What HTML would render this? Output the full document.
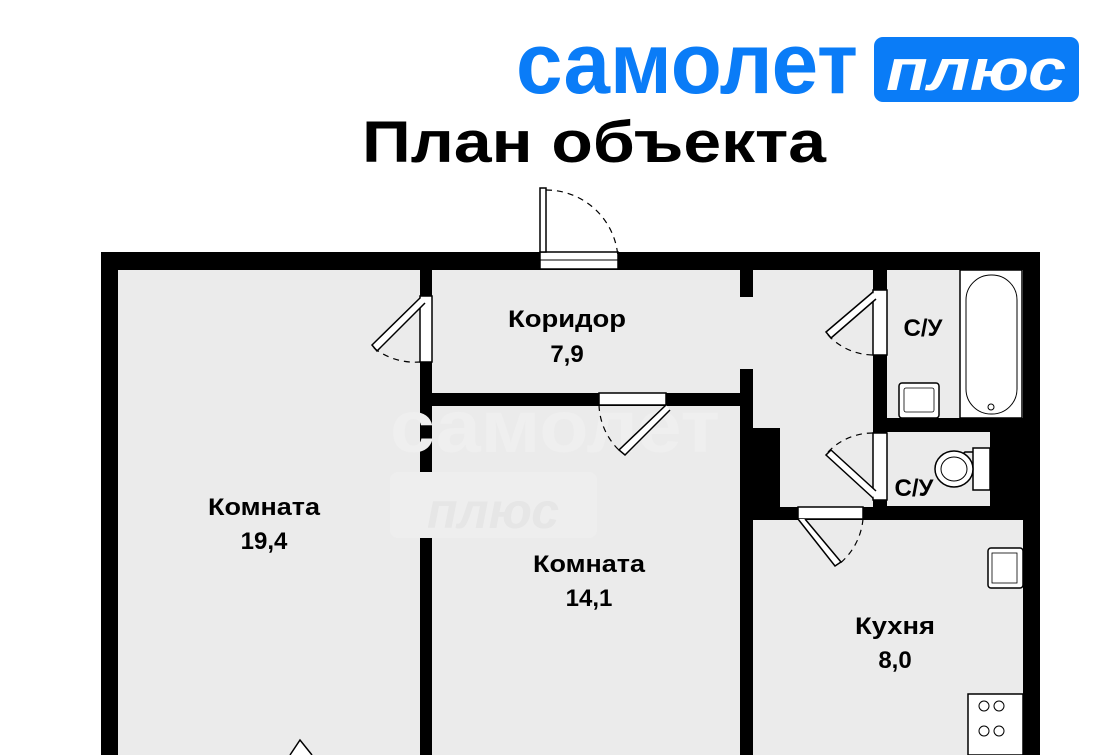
<!DOCTYPE html>
<html><head><meta charset="utf-8"><style>
html,body{margin:0;padding:0;background:#fff;width:1105px;height:755px;overflow:hidden}
svg{display:block}
text{font-family:"Liberation Sans","DejaVu Sans",sans-serif}
</style></head><body>
<svg width="1105" height="755" viewBox="0 0 1105 755" xmlns="http://www.w3.org/2000/svg">
<!-- logo -->
<text x="516" y="93" font-size="86" font-weight="bold" fill="#0a7cf7" textLength="342" lengthAdjust="spacingAndGlyphs">самолет</text>
<rect x="874" y="37" width="205" height="65" rx="9" fill="#0a7cf7"/>
<text x="976" y="90" font-size="58" font-weight="bold" font-style="italic" fill="#fff" text-anchor="middle" textLength="180" lengthAdjust="spacingAndGlyphs">плюс</text>
<!-- title -->
<text x="594" y="162" font-size="58" font-weight="bold" fill="#000" text-anchor="middle" textLength="464" lengthAdjust="spacingAndGlyphs">План объекта</text>

<!-- outer wall -->
<rect x="101" y="252" width="939" height="520" fill="#000"/>
<!-- rooms fill -->
<g fill="#ebebeb">
<rect x="118" y="270" width="302" height="490"/>
<rect x="432" y="270" width="308" height="123"/>
<rect x="740" y="297" width="13" height="72"/>
<rect x="753" y="270" width="120" height="158"/>
<rect x="780" y="428" width="93" height="79"/>
<rect x="432" y="406" width="308" height="360"/>
<rect x="753" y="520" width="270" height="250"/>
<rect x="887" y="270" width="136" height="148"/>
<rect x="887" y="432" width="103" height="74"/>
</g>
<!-- faint watermark -->
<text x="555" y="452" font-size="74" font-weight="bold" fill="#efefef" text-anchor="middle" textLength="330" lengthAdjust="spacingAndGlyphs">самолет</text>
<rect x="390" y="472" width="207" height="66" rx="8" fill="#eeeeee"/>
<text x="493" y="528" font-size="50" font-weight="bold" font-style="italic" fill="#e6e6e6" text-anchor="middle">плюс</text>

<!-- entrance door -->
<rect x="540" y="252" width="78" height="17" fill="#fff" stroke="#000" stroke-width="1.5"/>
<line x1="540" y1="260" x2="618" y2="260" stroke="#000" stroke-width="1"/>
<rect x="540" y="188" width="6" height="64" fill="#fff" stroke="#000" stroke-width="1.5"/>
<path d="M546 190 A72 72 0 0 1 618 258" fill="none" stroke="#000" stroke-width="1.2" stroke-dasharray="6 5"/>

<!-- room1 door -->
<rect x="420" y="296" width="12" height="66" fill="#fff" stroke="#000" stroke-width="1.5"/>
<path d="M420 298 L372 345 L377 351 L425 303" fill="#fff" stroke="#000" stroke-width="1.5"/>
<path d="M374 348 A66 66 0 0 0 420 362" fill="none" stroke="#000" stroke-width="1.2" stroke-dasharray="6 5"/>

<!-- room2 door -->
<rect x="599" y="393" width="67" height="12" fill="#fff" stroke="#000" stroke-width="1.5"/>
<path d="M666 405 L619 450 L625 455 L670 410" fill="#fff" stroke="#000" stroke-width="1.5"/>
<path d="M599 405 A66 66 0 0 0 621 452" fill="none" stroke="#000" stroke-width="1.2" stroke-dasharray="6 5"/>

<!-- bath door -->
<rect x="873" y="290" width="14" height="65" fill="#fff" stroke="#000" stroke-width="1.5"/>
<path d="M873 292 L826 332 L831 338 L876 299" fill="#fff" stroke="#000" stroke-width="1.5"/>
<path d="M828 335 A62 62 0 0 0 873 355" fill="none" stroke="#000" stroke-width="1.2" stroke-dasharray="6 5"/>

<!-- wc door -->
<rect x="873" y="433" width="14" height="67" fill="#fff" stroke="#000" stroke-width="1.5"/>
<path d="M873 498 L826 455 L831 450 L876 491" fill="#fff" stroke="#000" stroke-width="1.5"/>
<path d="M828 452 A62 62 0 0 1 873 433" fill="none" stroke="#000" stroke-width="1.2" stroke-dasharray="6 5"/>

<!-- kitchen door -->
<rect x="798" y="507" width="65" height="12" fill="#fff" stroke="#000" stroke-width="1.5"/>
<path d="M798 519 L835 566 L841 562 L805 519" fill="#fff" stroke="#000" stroke-width="1.5"/>
<path d="M863 519 A66 66 0 0 1 838 565" fill="none" stroke="#000" stroke-width="1.2" stroke-dasharray="6 5"/>

<!-- bathtub -->
<rect x="960" y="270" width="62" height="148" fill="#fff" stroke="#000" stroke-width="1.5"/>
<rect x="966" y="275" width="51" height="139" rx="25" fill="#fff" stroke="#000" stroke-width="1"/>
<circle cx="991" cy="407" r="3" fill="none" stroke="#000"/>
<!-- bath sink -->
<rect x="899" y="383" width="40" height="35" rx="3" fill="#fff" stroke="#000" stroke-width="1.5"/>
<rect x="904" y="388" width="30" height="24" rx="2" fill="none" stroke="#000" stroke-width="0.8"/>
<!-- toilet -->
<rect x="973" y="448" width="17" height="42" fill="#fff" stroke="#000" stroke-width="1.5"/>
<path d="M973 452 L965 452 L960 456" fill="none" stroke="#000" stroke-width="1.5"/>
<ellipse cx="954" cy="469" rx="19" ry="18" fill="#fff" stroke="#000" stroke-width="1.5"/>
<ellipse cx="954" cy="469" rx="13" ry="12" fill="none" stroke="#000" stroke-width="1"/>
<!-- kitchen sink -->
<rect x="988" y="548" width="35" height="40" rx="3" fill="#fff" stroke="#000" stroke-width="1.5"/>
<rect x="992" y="553" width="25" height="30" fill="none" stroke="#000" stroke-width="0.8"/>
<!-- stove -->
<rect x="968" y="694" width="55" height="61" fill="#fff" stroke="#000" stroke-width="1.5"/>
<circle cx="984" cy="706" r="5" fill="none" stroke="#000"/>
<circle cx="999" cy="706" r="5" fill="none" stroke="#000"/>
<circle cx="984" cy="731" r="5" fill="none" stroke="#000"/>
<circle cx="999" cy="731" r="5" fill="none" stroke="#000"/>
<!-- bottom door hint in room1 -->
<path d="M290 755 L300 740 L312 755" fill="#fff" stroke="#000" stroke-width="1.5"/>

<!-- labels -->
<g font-weight="bold" font-size="24" fill="#000" text-anchor="middle">
<text x="567" y="327" textLength="118" lengthAdjust="spacingAndGlyphs">Коридор</text>
<text x="567" y="362">7,9</text>
<text x="264" y="515" textLength="112" lengthAdjust="spacingAndGlyphs">Комната</text>
<text x="264" y="549">19,4</text>
<text x="589" y="572" textLength="112" lengthAdjust="spacingAndGlyphs">Комната</text>
<text x="589" y="606">14,1</text>
<text x="895" y="634" textLength="80" lengthAdjust="spacingAndGlyphs">Кухня</text>
<text x="895" y="668">8,0</text>
<text x="923" y="336">С/У</text>
<text x="914" y="496">С/У</text>
</g>
</svg>
</body></html>
